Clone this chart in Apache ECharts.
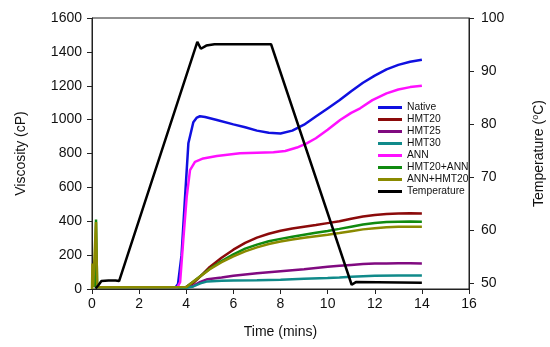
<!DOCTYPE html>
<html>
<head>
<meta charset="utf-8">
<script src="https://cdn.jsdelivr.net/npm/echarts@6/dist/echarts.min.js"></script>
<style>html,body{margin:0;padding:0;background:#fff}#c{width:550px;height:347px}</style>
</head>
<body>
<div id="c"></div>
<script>
var seriesNames = ['Native','HMT20','HMT25','HMT30','ANN','HMT20+ANN','ANN+HMT20','Temperature'];
var seriesColors = ['#1010e0','#8b0a0a','#800a80','#108a8a','#ff10ff','#108a10','#8a8a00','#000000'];
var xTicks = [0,2,4,6,8,10,12,14,16];
var yLeftTicks = [0,200,400,600,800,1000,1200,1400,1600];
var yRightTicks = [50,60,70,80,90,100];

var native = [[0.25,10],[1,10],[2,10],[3,10],[3.55,10],[3.65,30],[3.8,200],[3.95,545],[4.09,860],[4.3,985],[4.45,1012],[4.58,1020],[4.8,1015],[5.3,998],[6.0,972],[6.5,955],[7.0,935],[7.5,922],[8.0,918],[8.5,935],[9.0,970],[9.5,1018],[10.0,1066],[10.5,1114],[11.0,1168],[11.5,1218],[12.0,1260],[12.5,1297],[13.0,1323],[13.5,1342],[14.0,1354]];
var hmt20 = [[0.25,10],[1,10],[2,10],[3,10],[4.0,12],[4.3,35],[4.6,75],[5.0,130],[5.5,185],[6.0,232],[6.5,272],[7.0,303],[7.5,326],[8.0,344],[8.5,357],[9.0,368],[9.5,378],[10.0,389],[10.5,400],[11.0,415],[11.5,428],[12.0,437],[12.5,443],[13.0,446],[13.5,447],[14.0,446]];
var hmt25 = [[0.25,10],[1,10],[2,10],[3,10],[4.0,10],[4.3,18],[4.6,42],[4.9,58],[5.5,68],[6.0,78],[6.5,86],[7.0,93],[7.5,99],[8.0,105],[8.5,111],[9.0,117],[9.5,124],[10.0,131],[10.5,137],[11.0,142],[11.5,147],[12.0,150],[12.5,151],[13.0,152],[13.5,152],[14.0,151]];
var hmt30 = [[0.25,8],[1,8],[2,8],[3,8],[4.0,8],[4.3,15],[4.6,33],[4.9,45],[5.5,48],[6.0,50],[7.0,52],[8.0,55],[9.0,60],[10.0,65],[10.5,68],[11.0,73],[11.5,76],[12.0,78],[13.0,79],[14.0,79]];
var ann = [[0.25,10],[1,10],[2,10],[3,10],[3.62,10],[3.74,40],[3.88,300],[4.02,545],[4.16,702],[4.37,751],[4.72,771],[5.3,785],[6.28,801],[7.0,805],[7.7,808],[8.2,815],[8.7,835],[9.11,860],[9.5,890],[10.0,940],[10.53,998],[11.0,1040],[11.38,1067],[11.9,1115],[12.5,1155],[13.0,1178],[13.5,1192],[14.0,1200]];
var hmt20ann = [[0.12,10],[0.17,410],[0.22,10],[1,10],[2,10],[3,10],[4.0,12],[4.5,65],[5.0,120],[5.5,165],[6.0,205],[6.5,238],[7.0,262],[7.5,282],[8.0,296],[8.5,308],[9.0,320],[9.5,332],[10.0,343],[10.5,355],[11.0,368],[11.5,381],[12.0,390],[12.5,395],[13.0,397],[13.5,398],[14.0,397]];
var annhmt20 = [[0,0],[0.02,150],[0.05,10],[0.12,10],[0.17,395],[0.22,10],[1,10],[2,10],[3,10],[4.0,12],[4.5,65],[5.0,117],[5.5,158],[6.0,193],[6.5,222],[7.0,246],[7.5,266],[8.0,281],[8.5,292],[9.0,302],[9.5,311],[10.0,320],[10.5,330],[11.0,341],[11.5,352],[12.0,359],[12.5,364],[13.0,367],[13.5,368],[14.0,368]];
var temperature = [[0.15,49.0],[0.27,49.6],[0.4,50.4],[0.7,50.5],[1.0,50.5],[1.15,50.4],[4.47,95.5],[4.62,94.2],[4.85,94.8],[5.2,95.05],[7.6,95.05],[11.02,49.7],[11.2,50.2],[14.0,50.1]];

var viscosityData = [native,hmt20,hmt25,hmt30,ann,hmt20ann,annhmt20];

var font = 'Liberation Sans, Arial, sans-serif';
var chart = echarts.init(document.getElementById('c'), null, {renderer:'canvas'});
var series = [];
viscosityData.forEach(function(d,i){
  series.push({name:seriesNames[i], type:'line', data:d, yAxisIndex:0, showSymbol:false, symbol:'none',
    lineStyle:{width:2.5,color:seriesColors[i]}, itemStyle:{color:seriesColors[i]}});
});
series.push({name:'Temperature', type:'line', data:temperature, yAxisIndex:1, showSymbol:false, symbol:'none',
  lineStyle:{width:2.5,color:'#000'}, itemStyle:{color:'#000'}});

var plain = function(v){ return String(v); };
var axisLine = {show:true, lineStyle:{color:'#222', width:1}};
chart.setOption({
  animation:false,
  backgroundColor:'#fff',
  grid:{left:92,right:81,top:18,bottom:58,show:true,borderColor:'#222',borderWidth:1,backgroundColor:'transparent',
    containLabel:false, outerBoundsMode:'none'},
  legend:{orient:'vertical', left:373, top:97, itemWidth:24, itemHeight:3, itemGap:1, icon:'rect',
    data:seriesNames, textStyle:{fontFamily:font, fontSize:10.3, color:'#111', lineHeight:11}},
  xAxis:{type:'value', min:xTicks[0], max:xTicks[xTicks.length-1], interval:2,
    name:'Time (mins)', nameLocation:'middle', nameGap:36,
    nameTextStyle:{fontFamily:font, fontSize:14, color:'#111'},
    axisLine:axisLine, axisTick:{show:true, inside:false, length:5, lineStyle:{color:'#222'}},
    axisLabel:{fontFamily:font, fontSize:14, color:'#111', margin:8, formatter:plain},
    splitLine:{show:false}},
  yAxis:[
    {type:'value', min:yLeftTicks[0], max:yLeftTicks[yLeftTicks.length-1], interval:200, position:'left',
     name:'Viscosity (cP)', nameLocation:'middle', nameGap:64, nameRotate:90,
     nameTextStyle:{fontFamily:font, fontSize:14, color:'#111'},
     axisLine:axisLine, axisTick:{show:true, length:5, lineStyle:{color:'#222'}},
     axisLabel:{fontFamily:font, fontSize:14, color:'#111', margin:10, formatter:plain},
     splitLine:{show:false}},
    {type:'value', min:48.9, max:100, position:'right', alignTicks:false,
     name:'Temperature ({s|o}C)', nameLocation:'middle', nameGap:62, nameRotate:90,
     nameTextStyle:{fontFamily:font, fontSize:14, color:'#111',
       rich:{s:{fontFamily:font, fontSize:9, color:'#111', padding:[0,0,7,0]}}},
     axisLine:axisLine,
     axisTick:{show:true, length:5, customValues:yRightTicks, lineStyle:{color:'#222'}},
     axisLabel:{fontFamily:font, fontSize:14, color:'#111', margin:12, customValues:yRightTicks, formatter:plain},
     splitLine:{show:false}}
  ],
  series:series
});
</script>
</body>
</html>
